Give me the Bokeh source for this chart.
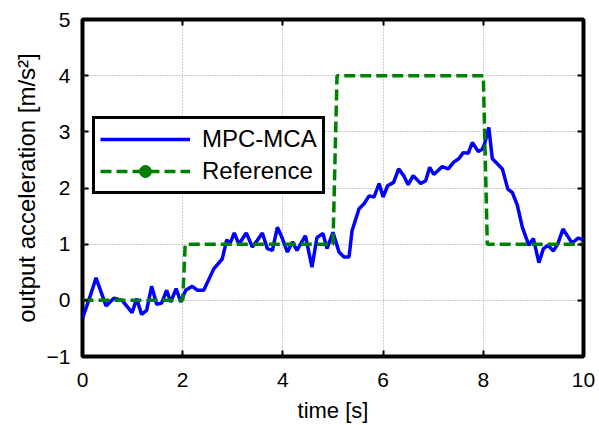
from bokeh.plotting import figure
from bokeh.models import Range1d, LinearAxis, Legend, LegendItem, FixedTicker, ColumnDataSource
from bokeh.embed import file_html
from bokeh.resources import INLINE

# MPC-MCA output
t_mpc = [0.0, 0.17, 0.27, 0.47, 0.63, 0.79, 0.99, 1.08, 1.18, 1.28, 1.38, 1.48, 1.58, 1.68, 1.76,
         1.87, 1.96, 2.06, 2.19, 2.29, 2.42, 2.62, 2.79, 2.88, 2.94, 3.03, 3.12, 3.27, 3.39, 3.49,
         3.59, 3.69, 3.79, 3.89, 3.99, 4.09, 4.19, 4.28, 4.45, 4.58, 4.68, 4.80, 4.88, 5.00, 5.12,
         5.22, 5.32, 5.38, 5.52, 5.62, 5.72, 5.82, 5.92, 6.00, 6.09, 6.21, 6.31, 6.41, 6.50, 6.60,
         6.75, 6.85, 6.93, 7.01, 7.18, 7.30, 7.41, 7.51, 7.60, 7.70, 7.78, 7.90, 7.98, 8.03, 8.11,
         8.18, 8.28, 8.38, 8.49, 8.58, 8.68, 8.78, 8.91, 9.00, 9.11, 9.20, 9.29, 9.40, 9.49, 9.59,
         9.67, 9.77, 9.90, 10.0]
a_mpc = [-0.32, 0.12, 0.40, -0.10, 0.04, 0.00, -0.22, 0.03, -0.25, -0.18, 0.25, -0.07, -0.05, 0.18, -0.03,
         0.21, -0.03, 0.18, 0.25, 0.18, 0.18, 0.56, 0.74, 1.08, 1.00, 1.20, 1.00, 1.20, 0.95, 1.07,
         1.20, 0.92, 0.89, 1.30, 1.10, 0.86, 1.04, 0.89, 1.15, 0.59, 1.12, 1.19, 0.92, 1.21, 0.86,
         0.77, 0.77, 1.24, 1.63, 1.72, 1.86, 1.84, 2.08, 1.84, 2.04, 2.10, 2.34, 2.22, 2.06, 2.22,
         2.08, 2.13, 2.37, 2.24, 2.38, 2.34, 2.46, 2.52, 2.63, 2.62, 2.81, 2.65, 2.69, 2.80, 3.08,
         2.52, 2.43, 2.34, 1.98, 1.92, 1.69, 1.30, 0.98, 1.10, 0.67, 0.92, 0.98, 0.88, 1.01, 1.27,
         1.16, 1.02, 1.11, 1.07]

# Reference signal
t_ref = [0.0, 2.0, 2.05, 5.0, 5.08, 8.0, 8.08, 10.0]
a_ref = [0.0, 0.0, 1.0, 1.0, 4.0, 4.0, 1.0, 1.0]

x_ticks = [0, 2, 4, 6, 8, 10]
y_ticks = [-1, 0, 1, 2, 3, 4, 5]

FONT = "Liberation Sans"
NAN = float("nan")

p = figure(width=599, height=425, output_backend="svg", toolbar_location=None,
           x_range=Range1d(0, 10), y_range=Range1d(-1, 5),
           min_border_left=82, min_border_right=16, min_border_top=19, min_border_bottom=69,
           background_fill_color="white", border_fill_color="white")
p.outline_line_color = "black"
p.outline_line_width = 4

for ax in (p.xaxis[0], p.yaxis[0]):
    ax.axis_line_color = None
    ax.major_tick_in = 6
    ax.major_tick_out = 0
    ax.major_tick_line_color = "black"
    ax.major_tick_line_width = 2
    ax.minor_tick_line_color = None
    ax.major_label_text_font = FONT
    ax.major_label_text_font_size = "21px"
    ax.major_label_text_color = "black"
    ax.axis_label_text_font = FONT
    ax.axis_label_text_font_style = "normal"
    ax.axis_label_text_color = "black"

p.xaxis[0].ticker = FixedTicker(ticks=x_ticks)
p.yaxis[0].ticker = FixedTicker(ticks=y_ticks)
p.xaxis[0].major_label_standoff = 16
p.yaxis[0].major_label_standoff = 12
p.xaxis[0].axis_label = "time [s]"
p.yaxis[0].axis_label = "output acceleration [m/s²]"
p.xaxis[0].axis_label_text_font_size = "22px"
p.yaxis[0].axis_label_text_font_size = "24px"
p.xaxis[0].axis_label_standoff = 8
p.yaxis[0].axis_label_standoff = 4

# ticks on top and right
top = LinearAxis(ticker=FixedTicker(ticks=x_ticks), axis_line_color=None,
                 major_tick_in=6, major_tick_out=0, major_tick_line_width=2,
                 minor_tick_line_color=None, major_label_text_font_size="0px",
                 major_label_standoff=0)
right = LinearAxis(ticker=FixedTicker(ticks=y_ticks), axis_line_color=None,
                   major_tick_in=6, major_tick_out=0, major_tick_line_width=2,
                   minor_tick_line_color=None, major_label_text_font_size="0px",
                   major_label_standoff=0)
p.add_layout(top, "above")
p.add_layout(right, "right")

p.xgrid.ticker = FixedTicker(ticks=x_ticks)
p.ygrid.ticker = FixedTicker(ticks=y_ticks)
p.grid.grid_line_color = "#9a9a9a"
p.grid.grid_line_width = 1
p.grid.grid_line_dash = "1 2"

r_mpc = p.line(t_mpc, a_mpc, line_color="#0000ff", line_width=3.5)
r_ref = p.line(t_ref, a_ref, line_color="#008000", line_width=3.5, line_dash="11 5")
# legend-only marker (no visible points on the plot)
dot_src = ColumnDataSource(data=dict(t=[NAN], a=[NAN]))
r_dot = p.scatter("t", "a", source=dot_src, marker="circle", size=10,
                  fill_color="#008000", line_color="#008000")

legend = Legend(items=[LegendItem(label="MPC-MCA", renderers=[r_mpc]),
                       LegendItem(label="Reference", renderers=[r_ref, r_dot])],
                location=(10, 162))
legend.label_text_font = FONT
legend.label_text_font_size = "24px"
legend.label_text_color = "black"
legend.glyph_width = 90
legend.glyph_height = 30
legend.label_height = 30
legend.label_standoff = 12
legend.spacing = 2
legend.padding = 5
legend.margin = 0
legend.border_line_color = "black"
legend.border_line_alpha = 1.0
legend.border_line_width = 3
legend.background_fill_color = "white"
legend.background_fill_alpha = 1.0
p.add_layout(legend, "center")

open("out.html", "w").write(file_html(p, INLINE))
